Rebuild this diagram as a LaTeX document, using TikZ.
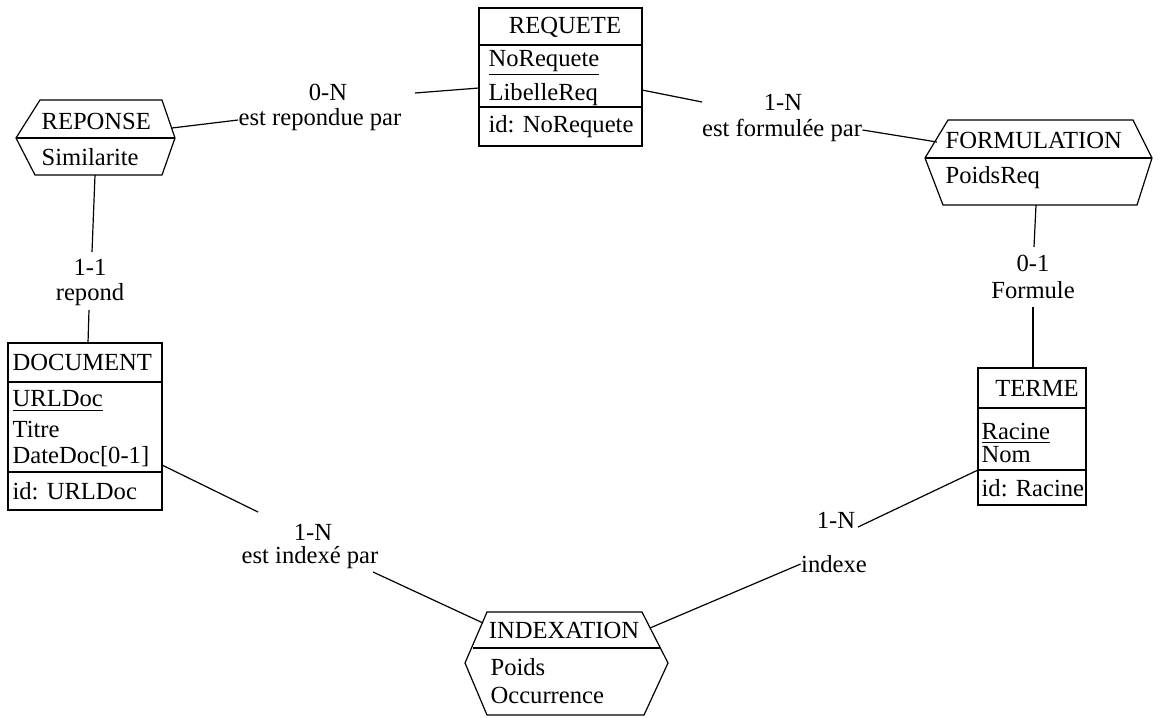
\documentclass[tikz,border=0pt]{standalone}
\usepackage{fontspec}
\setmainfont{Liberation Serif}
\begin{document}
\begin{tikzpicture}[x=0.5pt,y=-0.5pt,line width=0.6pt,
  txt/.style={inner sep=0pt,font=\fontsize{12.3}{14}\selectfont},
  attr/.style={txt,anchor=west},
  lbl/.style={txt},
  frame/.style={draw=black,line width=0.6pt},
  link/.style={draw=black,line width=0.6pt}]
\useasboundingbox[fill=white] (0,0) rectangle (1161,717);

% ---------- entity REQUETE ----------
\draw[frame] (479,8) rectangle (642,146);
\draw[frame] (479,45) -- (642,45);
\draw[frame] (479,107) -- (642,107);
\node[txt] (reqT) at (565,27) {REQUETE};
\node[attr] (reqA1) at (488,63) {\underline{NoRequete}};
\node[attr] (reqA2) at (488,95) {LibelleReq};
\node[attr] (reqId) at (488,127) {id: NoRequete};

% ---------- relation REPONSE ----------
\draw[frame] (16,138) -- (40,100) -- (162,100) -- (175,138) -- (162,175) -- (35,175) -- cycle;
\draw[frame] (16,138) -- (175,138);
\node[attr] (repT) at (41,121) {REPONSE};
\node[attr] (repA1) at (41,157) {Similarite};

% ---------- relation FORMULATION ----------
\draw[frame] (925,158) -- (948,120) -- (1133,120) -- (1152,158) -- (1137,205) -- (943,205) -- cycle;
\draw[frame] (925,158) -- (1152,158);
\node[attr] (forT) at (945,140) {FORMULATION};
\node[attr] (forA1) at (945,178) {PoidsReq};

% ---------- entity DOCUMENT ----------
\draw[frame] (8,343) rectangle (162,510);
\draw[frame] (8,382) -- (162,382);
\draw[frame] (8,472) -- (162,472);
\node[attr] (docT) at (12,362) {DOCUMENT};
\node[attr] (docA1) at (12,401) {\underline{URLDoc}};
\node[attr] (docA2) at (12,429) {Titre};
\node[attr] (docA3) at (12,457) {DateDoc[0-1]};
\node[attr] (docId) at (12,491) {id: URLDoc};

% ---------- entity TERME ----------
\draw[frame] (978,368) rectangle (1086,505);
\draw[frame] (978,408) -- (1086,408);
\draw[frame] (978,470) -- (1086,470);
\node[txt] (terT) at (1037,388) {TERME};
\node[attr] (terA1) at (981,433) {\underline{Racine}};
\node[attr] (terA2) at (981,455) {Nom};
\node[attr] (terId) at (981,488) {id: Racine};

% ---------- relation INDEXATION ----------
\draw[frame] (465,663) -- (487,612) -- (642,612) -- (668,663) -- (644,715) -- (487,715) -- cycle;
\draw[frame] (473,648) -- (660,648);
\node[txt] (idxT) at (564,630) {INDEXATION};
\node[attr] (idxA1) at (490,667) {Poids};
\node[attr] (idxA2) at (490,695) {Occurrence};

% ---------- role labels ----------
\node[lbl] (cRep) at (328,92) {0-N};
\node[lbl] (rRep) at (320,120) {est repondue par};
\node[lbl] (cFor) at (783,102) {1-N};
\node[lbl] (rFor) at (782,130) {est formulée par};
\node[lbl] (cRpd) at (90,267) {1-1};
\node[lbl] (rRpd) at (90,295) {repond};
\node[lbl] (cFmu) at (1033,263) {0-1};
\node[lbl] (rFmu) at (1033,290) {Formule};
\node[lbl] (cIxp) at (313,532) {1-N};
\node[lbl] (rIxp) at (310,558) {est indexé par};
\node[lbl] (cIdx) at (836,520) {1-N};
\node[lbl] (rIdx) at (834,564) {indexe};

% ---------- attachment points ----------
\coordinate (repE) at (172,128);
\coordinate (rep1) at (415,93);
\coordinate (reqW) at (479,88);
\coordinate (reqE) at (642,90);
\coordinate (for0) at (702,102);
\coordinate (forW) at (937,142);
\coordinate (repS) at (95,175);
\coordinate (rpd0) at (92,252);
\coordinate (rpd1) at (89,310);
\coordinate (docN) at (88,343);
\coordinate (forS) at (1036,205);
\coordinate (fmu0) at (1034,247);
\coordinate (fmu1) at (1033,307);
\coordinate (terN) at (1033,368);
\coordinate (docE) at (162,465);
\coordinate (ixp0) at (258,512);
\coordinate (ixp1) at (373,572);
\coordinate (idxW) at (483,623);
\coordinate (terW) at (978,470);
\coordinate (idx0) at (858,527);
\coordinate (idxE) at (650,628);

% ---------- connectors ----------
\draw[link] (repE) -- (rRep.west);
\draw[link] (rep1) -- (reqW);
\draw[link] (reqE) -- (for0);
\draw[link] (rFor.east) -- (forW);
\draw[link] (repS) -- (rpd0);
\draw[link] (rpd1) -- (docN);
\draw[link] (forS) -- (fmu0);
\draw[link] (fmu1) -- (terN);
\draw[link] (docE) -- (ixp0);
\draw[link] (ixp1) -- (idxW);
\draw[link] (terW) -- (idx0);
\draw[link] (rIdx.west) -- (idxE);
\end{tikzpicture}
\end{document}
